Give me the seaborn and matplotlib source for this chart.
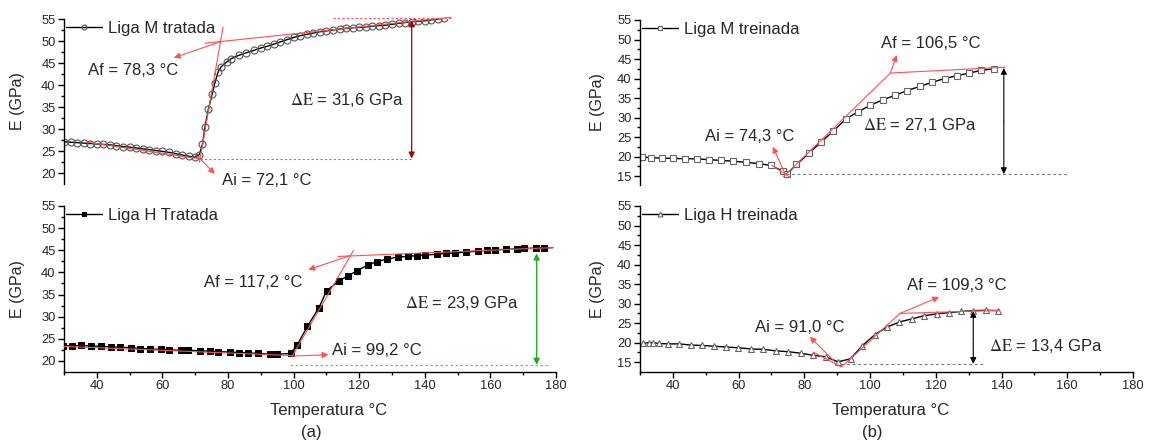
import matplotlib
matplotlib.use("Agg")
import matplotlib.pyplot as plt
import seaborn as sns
import pandas as pd

# ---------------- data ----------------
# (a) top: Liga M tratada
m_trat_T = [30, 32, 34, 36, 38, 40, 42, 44, 46, 48, 50, 52, 54, 56, 58, 60, 62, 64, 66, 68, 70,
            71.3, 72.2, 73, 74, 75.2, 76, 77, 78, 79.7, 81, 83.5, 85.5, 88, 90, 92, 94, 96, 98,
            100, 102, 104, 106, 108, 110, 112, 114, 116, 118, 120, 122, 124, 126, 128, 130,
            132, 134, 136, 138, 140, 142, 144, 146]
m_trat_E = [27.1, 27.0, 26.9, 26.8, 26.7, 26.6, 26.5, 26.4, 26.2, 26.0, 25.9, 25.7, 25.5, 25.3,
            25.1, 24.9, 24.7, 24.4, 24.1, 23.8, 23.6,
            24.2, 26.5, 30.5, 34.5, 38.0, 40.5, 43.0, 44.2, 45.3, 46.0, 46.8, 47.3, 47.9, 48.4,
            48.8, 49.3, 49.8, 50.3, 50.8, 51.2, 51.5, 51.8, 52.1, 52.3, 52.5, 52.7, 52.9, 53.0,
            53.1, 53.2, 53.4, 53.5, 53.6, 53.8, 54.0, 54.2, 54.4, 54.5, 54.6, 54.8, 55.0, 55.2]

# (a) bottom: Liga H Tratada
h_trat_T = [29.8, 32.3, 35.2, 38.1, 41.2, 44.2, 47.2, 50.4, 53.3, 56.3, 59.7, 62.0, 65.8, 67.8,
            71.5, 74.5, 77.0, 80.5, 83.4, 86.1, 89.2, 92.9, 94.9, 99.1, 101.1, 104.2, 107.7,
            110.1, 113.9, 116.5, 119.4, 122.8, 125.3, 128.4, 131.9, 134.9, 137.5, 140.2, 143.6,
            146.4, 149.2, 152.6, 156.3, 158.9, 161.4, 164.8, 168.0, 170.2, 173.9, 176.3, 179.0]
h_trat_E = [23.4, 23.4, 23.5, 23.4, 23.3, 23.2, 23.1, 23.0, 22.8, 22.7, 22.6, 22.5, 22.4, 22.4,
            22.3, 22.2, 22.1, 22.0, 21.9, 21.8, 21.7, 21.5, 21.5, 21.7, 23.6, 27.8, 32.0,
            35.9, 38.1, 39.2, 40.4, 41.7, 42.4, 43.0, 43.5, 43.6, 43.8, 43.9, 44.1,
            44.3, 44.4, 44.6, 44.8, 45.0, 45.1, 45.2, 45.3, 45.4, 45.5, 45.5, 45.6]
h_trat_marker_end = 50  # last point of the line has no marker

# (b) top: Liga M treinada
m_trei_T = [30.5, 33.3, 36.7, 40.1, 43.6, 47.2, 50.9, 54.7, 58.4, 62.2, 66.1, 69.8, 73.6, 74.6,
            77.6, 81.4, 85.2, 88.8, 92.6, 96.4, 100.0, 103.8, 107.6, 111.3, 115.2, 118.8, 122.7,
            126.3, 130.2, 133.9, 137.7]
m_trei_E = [19.9, 19.7, 19.6, 19.5, 19.45, 19.4, 19.2, 19.0, 18.8, 18.5, 18.2, 17.7, 16.2, 15.4,
            18.0, 20.8, 23.8, 26.5, 29.6, 31.5, 33.1, 34.5, 35.7, 36.9, 38.0, 39.0, 40.0,
            40.7, 41.4, 42.1, 42.5]

# (b) bottom: Liga H treinada
h_trei_T = [31.0, 32.7, 33.9, 35.8, 38.6, 42.0, 45.4, 48.8, 52.5, 56.2, 59.9, 63.8, 67.5, 71.4,
            75.1, 78.9, 82.5, 86.5, 90.3, 94.1, 97.6, 101.5, 105.2, 108.9, 112.7, 116.4, 120.3,
            124.0, 127.7, 131.4, 135.2, 139.0]
h_trei_E = [19.8, 20.05, 20.0, 19.8, 19.7, 19.7, 19.4, 19.3, 19.1, 18.9, 18.7, 18.4, 18.3, 17.9,
            17.7, 17.3, 16.8, 16.4, 15.1, 15.9, 19.2, 22.1, 24.0, 25.3, 26.1, 26.9, 27.4,
            27.7, 28.0, 28.2, 28.3, 28.2]

# tangent construction lines (T, E pairs)
tl_tangents = [((37, 71.5), (27.0, 23.2)), ((71.3, 78.5), (22.5, 53.2)), ((73, 148), (49.5, 55.4))]
bl_tangents = [((30, 99.5), (23.3, 21.2)), ((99.5, 118.3), (21.0, 45.0)), ((113.6, 179.2), (43.6, 45.6))]
tr_tangents = [((70.0, 75.8), (17.8, 14.6)), ((73.6, 106.2), (14.8, 41.4)), ((106.2, 141.0), (41.4, 42.9))]
br_tangents = [((82.7, 91.3), (17.6, 13.8)), ((91.3, 109.1), (13.8, 27.5)), ((109.1, 139.5), (27.5, 28.3))]

labels = ["Liga M tratada", "Liga H Tratada", "Liga M treinada", "Liga H treinada"]

# ---------------- style ----------------
sns.set_style("ticks")
plt.rcParams["font.family"] = ["Liberation Sans", "DejaVu Sans"]
plt.rcParams["mathtext.fontset"] = "stix"

FS = 12
RED = "#ff5050"
fig = plt.figure(figsize=(11.53, 4.45), dpi=100)
W, H = 1153, 445

def axpos(x0, x1, ytop, ybot):
    return [x0 / W, 1 - ybot / H, (x1 - x0) / W, (ybot - ytop) / H]

ax_tl = fig.add_axes(axpos(64, 556, 19, 184))
ax_bl = fig.add_axes(axpos(64, 556, 206, 372))
ax_tr = fig.add_axes(axpos(640, 1133, 20, 185))
ax_br = fig.add_axes(axpos(640, 1133, 206, 372))

def style_axis(ax, ylo, ymin_tick, top_panel, ylabel_x):
    ax.set_xlim(30, 180)
    ax.set_ylim(ylo, 55)
    ax.set_yticks(range(ymin_tick, 56, 5))
    ax.set_yticks([v + 2.5 for v in range(ymin_tick - 5, 55, 5) if v + 2.5 > ylo], minor=True)
    ax.set_xticks(range(40, 181, 20))
    ax.set_xticks(range(30, 181, 20), minor=True)
    for s in ["top", "right"]:
        ax.spines[s].set_visible(False)
    for s in ax.spines.values():
        s.set_linewidth(1.0)
        s.set_color("black")
    ax.tick_params(axis="both", which="major", length=4, width=1, labelsize=9.3, color="black", pad=2)
    ax.tick_params(axis="both", which="minor", length=2.5, width=1, color="black")
    if top_panel:
        ax.spines["bottom"].set_visible(False)
        ax.tick_params(axis="x", which="both", bottom=False, labelbottom=False)
    ax.set_xlabel("")
    ax.set_ylabel("E (GPa)", fontsize=11.5)
    ax.yaxis.set_label_coords(ylabel_x, 0.5)
    ax.grid(False)

def draw_tangents(ax, tangents, color=RED):
    for (xs, ys) in tangents:
        ax.plot(xs, ys, color=color, lw=0.8, clip_on=False, zorder=3)

def arrow(ax, start, end, color=RED, lw=0.8, style="-|>"):
    ax.annotate("", xy=end, xytext=start,
                arrowprops=dict(arrowstyle=style, color=color, lw=lw, mutation_scale=9,
                                shrinkA=0, shrinkB=0), annotation_clip=False, zorder=4)

# ---- (a) top
df = pd.DataFrame({"T": m_trat_T, "E": m_trat_E})
sns.lineplot(data=df, x="T", y="E", ax=ax_tl, color="black", lw=1.0, marker="o", markersize=5,
             markerfacecolor="none", markeredgecolor="#555555", markeredgewidth=0.8,
             label=labels[0], zorder=2)
draw_tangents(ax_tl, tl_tangents)
ax_tl.plot([112, 148.6], [55.2, 55.2], color=RED, lw=0.8, ls=(0, (2, 2)), clip_on=False)
ax_tl.plot([71.5, 136.4], [23.2, 23.2], color=RED, lw=0.8, ls=(0, (2, 2)))
arrow(ax_tl, (136.0, 38), (136.0, 54.7), color="#a00000", lw=0.9)
arrow(ax_tl, (136.0, 38), (136.0, 23.3), color="#a00000", lw=0.9)
arrow(ax_tl, (77.6, 49.8), (63.5, 46.2))
arrow(ax_tl, (71.5, 23.2), (76.0, 19.8))
ax_tl.text(37.3, 43.3, "Af = 78,3 °C", fontsize=FS, va="center", ha="left")
ax_tl.text(78.2, 18.2, "Ai = 72,1 °C", fontsize=FS, va="center", ha="left", clip_on=False)
ax_tl.text(98.9, 36.7, r"$\Delta\mathrm{E}$ = 31,6 GPa", fontsize=FS, va="center", ha="left")
style_axis(ax_tl, 17.5, 20, True, -0.079)

# ---- (a) bottom
df = pd.DataFrame({"T": h_trat_T, "E": h_trat_E})
sns.lineplot(data=df, x="T", y="E", ax=ax_bl, color="black", lw=1.0, marker="s", markersize=4.5,
             markerfacecolor="black", markeredgecolor="black", markevery=list(range(h_trat_marker_end)),
             label=labels[1], zorder=2)
draw_tangents(ax_bl, bl_tangents)
arrow(ax_bl, (99.8, 21.1), (110.6, 21.4))
arrow(ax_bl, (117.2, 43.8), (104.5, 40.6))
ax_bl.plot([98.9, 177.6], [19.0, 19.0], color="#66cc66", lw=0.9, ls=(0, (2, 2)))
arrow(ax_bl, (174.1, 32), (174.1, 44.3), color="#22aa22", lw=1.0)
arrow(ax_bl, (174.1, 32), (174.1, 19.1), color="#22aa22", lw=1.0)
ax_bl.text(72.7, 37.8, "Af = 117,2 °C", fontsize=FS, va="center", ha="left")
ax_bl.text(111.6, 22.3, "Ai = 99,2 °C", fontsize=FS, va="center", ha="left")
ax_bl.text(134.0, 33.0, r"$\Delta\mathrm{E}$ = 23,9 GPa", fontsize=FS, va="center", ha="left")
style_axis(ax_bl, 17.5, 20, False, -0.079)

# ---- (b) top
df = pd.DataFrame({"T": m_trei_T, "E": m_trei_E})
sns.lineplot(data=df, x="T", y="E", ax=ax_tr, color="black", lw=1.0, marker="s", markersize=4.2,
             markerfacecolor="white", markeredgecolor="#666666", markeredgewidth=0.8,
             label=labels[2], zorder=2)
draw_tangents(ax_tr, tr_tangents)
ax_tr.plot([140.5, 141.0], [42.8, 42.9], color=RED, lw=0.8)
ax_tr.plot([74.4, 160.2], [15.4, 15.4], color="#777777", lw=0.8, ls=(0, (2.5, 2.5)))
arrow(ax_tr, (140.7, 29), (140.7, 42.7), color="black", lw=0.8)
arrow(ax_tr, (140.7, 29), (140.7, 15.5), color="black", lw=0.8)
arrow(ax_tr, (106.2, 41.4), (108.1, 46.0))
arrow(ax_tr, (74.3, 15.3), (70.4, 22.5))
ax_tr.text(103.2, 49.0, "Af = 106,5 °C", fontsize=FS, va="center", ha="left")
ax_tr.text(49.8, 25.1, "Ai = 74,3 °C", fontsize=FS, va="center", ha="left")
ax_tr.text(97.7, 28.1, r"$\Delta\mathrm{E}$ = 27,1 GPa", fontsize=FS, va="center", ha="left")
style_axis(ax_tr, 12.7, 15, True, -0.071)

# ---- (b) bottom
df = pd.DataFrame({"T": h_trei_T, "E": h_trei_E})
sns.lineplot(data=df, x="T", y="E", ax=ax_br, color="black", lw=1.0, marker="^", markersize=5,
             markerfacecolor="white", markeredgecolor="#666666", markeredgewidth=0.8,
             label=labels[3], zorder=2)
draw_tangents(ax_br, br_tangents)
ax_br.plot([91.2, 135.0], [14.5, 14.5], color="#777777", lw=0.8, ls=(0, (2.5, 2.5)))
arrow(ax_br, (131.4, 21), (131.4, 28.1), color="black", lw=0.8)
arrow(ax_br, (131.4, 21), (131.4, 14.6), color="black", lw=0.8)
arrow(ax_br, (109.1, 27.5), (121.0, 31.7))
arrow(ax_br, (89.3, 15.1), (81.7, 21.5))
ax_br.text(111.1, 34.6, "Af = 109,3 °C", fontsize=FS, va="center", ha="left")
ax_br.text(65.0, 24.0, "Ai = 91,0 °C", fontsize=FS, va="center", ha="left")
ax_br.text(136.3, 19.2, r"$\Delta\mathrm{E}$ = 13,4 GPa", fontsize=FS, va="center", ha="left")
style_axis(ax_br, 12.5, 15, False, -0.071)

# legends
for ax in [ax_tl, ax_bl, ax_tr, ax_br]:
    ax.legend(loc="upper left", frameon=False, fontsize=FS, handlelength=2.2,
              handletextpad=0.35, borderaxespad=0.0, borderpad=0.1, markerscale=0.7)

# bottom texts
fig.text(329 / W, 1 - 411 / H, "Temperatura °C", fontsize=FS, ha="center", va="center")
fig.text(891 / W, 1 - 411 / H, "Temperatura °C", fontsize=FS, ha="center", va="center")
fig.text(311 / W, 1 - 433 / H, "(a)", fontsize=FS, ha="center", va="center")
fig.text(872.5 / W, 1 - 433 / H, "(b)", fontsize=FS, ha="center", va="center")

fig.savefig("out.png", dpi=100)
